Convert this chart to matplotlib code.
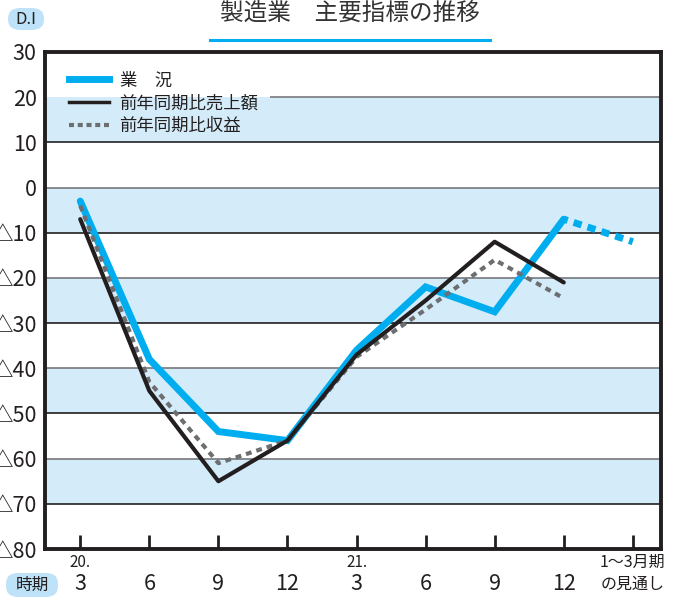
import matplotlib
matplotlib.use("Agg")
import matplotlib.pyplot as plt
from matplotlib.patches import FancyBboxPatch
from matplotlib.lines import Line2D

plt.rcParams['font.family'] = ['Noto Sans CJK JP', 'DejaVu Sans']

# ---- data ----
periods = ["3", "6", "9", "12", "3", "6", "9", "12"]
year_marks = {0: "20.", 4: "21."}
forecast_label_top = "1〜3月期"
forecast_label_bottom = "の見通し"
gyokyo = [-3, -38, -54, -56, -36, -22, -27.5, -7]     # 業況
gyokyo_forecast = -12
sales = [-7, -45, -65, -56, -37, -25, -12, -21]        # 前年同期比売上額
profit = [-4, -43, -61, -56, -37.5, -27, -16, -24.5]   # 前年同期比収益
yticks = [30, 20, 10, 0, -10, -20, -30, -40, -50, -60, -70, -80]
ytick_labels = ["30", "20", "10", "0", "△10", "△20", "△30", "△40",
                "△50", "△60", "△70", "△80"]
series_names = ["業　況", "前年同期比売上額", "前年同期比収益"]
title = "製造業　主要指標の推移"

BLUE = "#00AEEF"
BAND = "#D4ECF9"
BLACK = "#231F20"
GRAY = "#6D6E71"

fig = plt.figure(figsize=(6.76, 5.97), dpi=100)
ax = fig.add_axes([0.0666, 0.0804, 0.9114, 0.8325])
ax.set_xlim(-0.51, 8.41)
ax.set_ylim(-80, 30)

# bands
for top in [20, 0, -20, -40, -60]:
    ax.axhspan(top - 10, top, color=BAND, lw=0, zorder=0)
# grid lines
for yv in yticks[1:-1]:
    col = BLACK if yv in (10, -10, -30, -50, -70) else "#77787B"
    if yv == 20:
        ax.hlines(yv, 2.75, 8.41, color=col, lw=1.2, zorder=1)
    else:
        ax.axhline(yv, color=col, lw=1.2, zorder=1)

x = list(range(len(periods)))
lb, = ax.plot(x, gyokyo, color=BLUE, lw=5.0, solid_capstyle='round',
              solid_joinstyle='miter', zorder=2)
ax.plot([x[-1], len(periods)], [gyokyo[-1], gyokyo_forecast], color=BLUE, lw=5.0,
        linestyle=(0.6, (1.2, 0.9)), dash_capstyle='butt', zorder=2)
lg, = ax.plot(x, profit, color=GRAY, lw=3.0, linestyle=(0, (1.4, 1.2)),
              dash_capstyle='butt', zorder=3)
lk, = ax.plot(x, sales, color=BLACK, lw=3.0, solid_capstyle='round', zorder=4)

# ticks
ax.set_yticks(yticks)
ax.set_yticklabels(ytick_labels, fontsize=15.5, color=BLACK)
ax.tick_params(axis='y', length=0, pad=6)
ax.set_xticks(list(range(len(periods) + 1)))
ax.set_xticklabels([])
ax.tick_params(axis='x', direction='in', length=10, width=2, color=BLACK)
for s in ax.spines.values():
    s.set_linewidth(2.8)
    s.set_color(BLACK)

# x labels
trans = ax.get_xaxis_transform()
for i, p in enumerate(periods):
    ax.text(i, -0.071, p, transform=trans, ha='center', va='center',
            fontsize=15.5, color=BLACK)
for i, t in year_marks.items():
    ax.text(i, -0.027, t, transform=trans, ha='center', va='center',
            fontsize=11, color=BLACK)
ax.text(8, -0.027, forecast_label_top, transform=trans, ha='center', va='center',
        fontsize=11.5, color=BLACK)
ax.text(8, -0.071, forecast_label_bottom, transform=trans, ha='center', va='center',
        fontsize=11.5, color=BLACK)

# legend
handles = [Line2D([], [], color=BLUE, lw=5),
           Line2D([], [], color=BLACK, lw=2.5),
           Line2D([], [], color=GRAY, lw=3, linestyle=(0, (1.2, 0.9)))]
leg = ax.legend(handles, series_names, loc='upper left', frameon=False,
                fontsize=12.5, handlelength=2.3, handletextpad=0.6,
                labelspacing=0.28, borderaxespad=0.0,
                bbox_to_anchor=(0.028, 0.975))
for t in leg.get_texts():
    t.set_color(BLACK)

# title
fig.text(350 / 676, 1 - 13 / 597, title, ha='center', va='center',
         fontsize=17, color="#333333")
fig.add_artist(Line2D([210 / 676, 490 / 676], [1 - 40 / 597, 1 - 40 / 597],
                      color=BLUE, lw=2.2))

# badges
for (cx, cy, txt, w, h) in [(26, 19, "D.I", 36, 22), (32, 585, "時期", 52, 24)]:
    fig.patches.append(FancyBboxPatch(((cx - w / 2) / 676, 1 - (cy + h / 2) / 597),
                                      w / 676, h / 597,
                                      boxstyle="round,pad=0,rounding_size=0.018",
                                      transform=fig.transFigure,
                                      facecolor="#BEE3F8", edgecolor='none'))
    fig.text(cx / 676, 1 - cy / 597, txt, ha='center', va='center',
             fontsize=12, color=BLACK)

fig.savefig("out.png", dpi=100)
